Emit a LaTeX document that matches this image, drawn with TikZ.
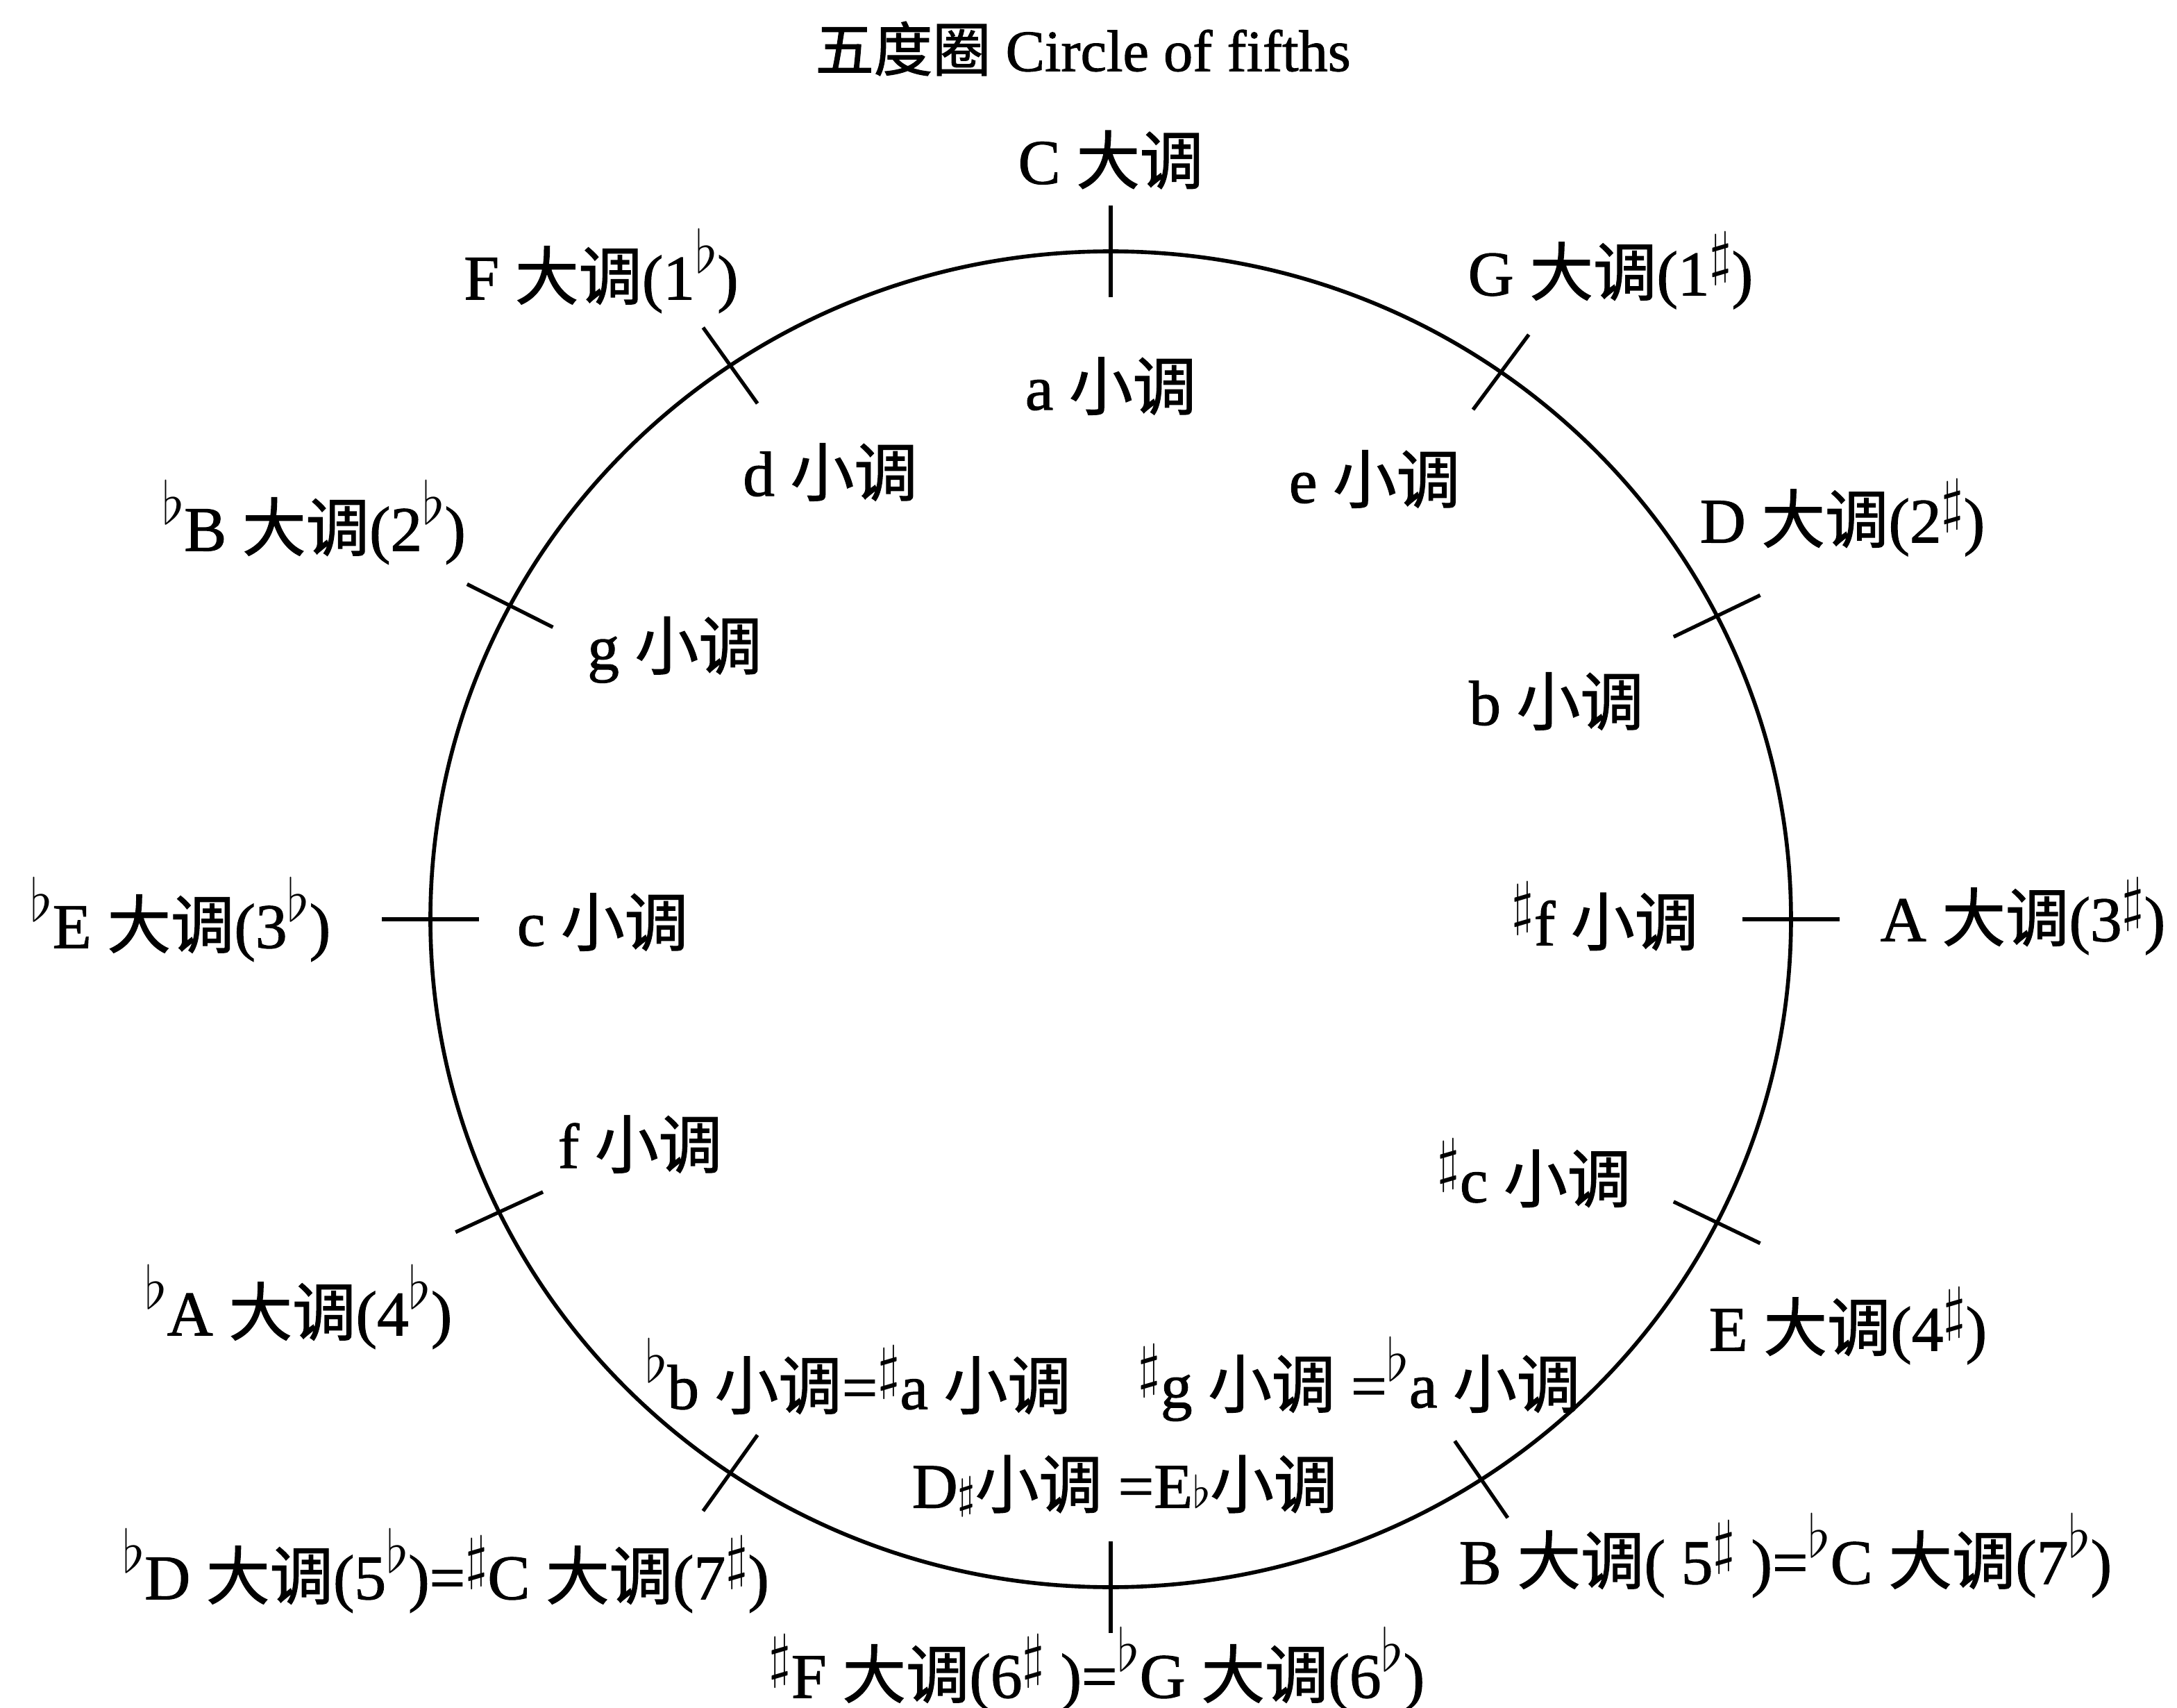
\documentclass[tikz,border=0pt]{standalone}
\usepackage{fontspec}
\setmainfont[FakeBold=1.2]{Liberation Serif}
\newfontfamily\cjkfont[FakeBold=1.4]{Noto Sans CJK SC}
\usetikzlibrary{positioning}
\newcommand{\zh}[1]{{\cjkfont #1}}
\newcommand{\kflat}{\raisebox{5.5pt}{\fontsize{12}{12}\selectfont$\flat$}}
\newcommand{\ksharp}{\raisebox{4.5pt}{\fontsize{12}{12}\selectfont$\sharp$}}
\newcommand{\iflat}{\ensuremath{\scriptstyle\flat}}
\newcommand{\isharp}{\ensuremath{\scriptstyle\sharp}}

\begin{document}
\begin{tikzpicture}[
  x=0.01cm,y=-0.01cm,
  heading/.style={font=\fontsize{12}{14}\selectfont,inner sep=0pt},
  key/.style={font=\fontsize{13}{15}\selectfont,inner sep=0pt},
  ring/.style={line width=0.8pt},
  tick/.style={line width=0.75pt}
]
\useasboundingbox (0,0) rectangle (1568,1230);
\node[heading] (title) at (780,35) {\zh{五度圈} Circle of fifths};

\draw[ring] (800,662) ellipse [x radius=490,y radius=481];
\foreach \a in {90,55,27,0,333,303,270,236,206,180,152,124}
  \draw[tick] ({800+455*cos(\a)},{662-448*sin(\a)}) -- ({800+525*cos(\a)},{662-514*sin(\a)});

\node[key] (Cmaj) at (800,115) {C \zh{大调}};
\node[key] (Gmaj) at (1160,195) {G \zh{大调}(1\ksharp)};
\node[key] (Dmaj) at (1327,373) {D \zh{大调}(2\ksharp)};
\node[key] (Amaj) at (1457,660) {A\ \zh{大调}(3\ksharp)};
\node[key] (Emaj) at (1331,955) {E \zh{大调}(4\ksharp)};
\node[key] (Bmaj) at (1286,1120) {B \zh{大调}( 5\ksharp\ )=\kflat C \zh{大调}(7\kflat)};
\node[key] (Fsmaj) at (790,1202) {\ksharp F \zh{大调}(6\ksharp\ )=\kflat G \zh{大调}(6\kflat)};
\node[key] (Dbmaj) at (321,1131) {\kflat D \zh{大调}(5\kflat)=\ksharp C \zh{大调}(7\ksharp)};
\node[key] (Abmaj) at (215,941) {\kflat A \zh{大调}(4\kflat)};
\node[key] (Ebmaj) at (130,662) {\kflat E \zh{大调}(3\kflat)};
\node[key] (Bbmaj) at (226,376) {\kflat B \zh{大调}(2\kflat)};
\node[key] (Fmaj) at (433,195) {F \zh{大调}(1\kflat)};

\node[key] (amin) at (800,278) {a \zh{小调}};
\node[key] (emin) at (990,345) {e \zh{小调}};
\node[key] (bmin) at (1121,505) {b \zh{小调}};
\node[key] (fsmin) at (1156,660) {\ksharp f \zh{小调}};
\node[key] (csmin) at (1105,845) {\ksharp c \zh{小调}};
\node[key] (gsmin) at (979,993) {\ksharp g \zh{小调} =\kflat a \zh{小调}};
\node[key] (dsmin) at (810,1070) {D\isharp\zh{小调} =E\iflat\zh{小调}};
\node[key] (bbmin) at (618,991) {\kflat b \zh{小调}=\ksharp a \zh{小调}};
\node[key] (fmin) at (461,824) {f \zh{小调}};
\node[key] (cmin) at (434,664) {c \zh{小调}};
\node[key] (gmin) at (486,468) {g \zh{小调}};
\node[key] (dmin) at (598,340) {d \zh{小调}};
\end{tikzpicture}
\end{document}
